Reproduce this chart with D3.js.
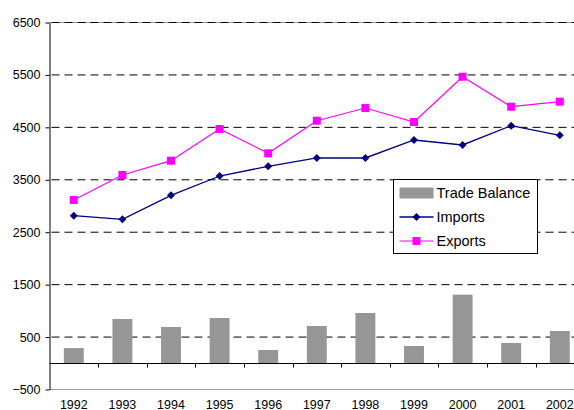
<!DOCTYPE html>
<html>
<head>
<meta charset="utf-8">
<script src="https://cdn.jsdelivr.net/npm/d3@7"></script>
<style>
  body { margin: 0; background: #fff; }
  svg { display: block; font-family: 'Liberation Sans', Arial, sans-serif; }
</style>
</head>
<body>
<svg id="chart" width="574" height="410"></svg>
<script>
// values
const years = ['1992', '1993', '1994', '1995', '1996', '1997', '1998', '1999', '2000', '2001', '2002']
const tradeBalance = [290, 845, 692, 864, 254, 711, 959, 330, 1309, 387, 616]
const imports = [2815, 2746, 3204, 3572, 3757, 3916, 3916, 4259, 4164, 4532, 4349]
const exports = [3115, 3591, 3865, 4469, 4005, 4627, 4869, 4602, 5466, 4894, 4990]
const yTicks = [-500, 500, 1500, 2500, 3500, 4500, 5500, 6500]
const seriesNames = ['Trade Balance', 'Imports', 'Exports']

const svg = d3.select('#chart')
const left = 49.5
const band = 48.6

const x = d3.scaleBand()
  .domain(years)
  .range([left, left + band * years.length])
  .padding(0)
const y = d3.scaleLinear()
  .domain([-500, 6500])
  .range([389.5, 22.5])

const right = x.range()[1]

// plot border top / bottom
svg.append('g').selectAll('line')
  .data([-500, 6500])
  .enter()
  .append('line')
  .attr('x1', left).attr('x2', right)
  .attr('y1', d => y(d)).attr('y2', d => y(d))
  .attr('stroke', '#999')
  .attr('stroke-width', 1)

// dashed gridlines
svg.append('g').selectAll('line')
  .data(yTicks.filter(d => d > -500))
  .enter()
  .append('line')
  .attr('x1', left).attr('x2', right)
  .attr('y1', d => y(d)).attr('y2', d => y(d))
  .attr('stroke', '#000')
  .attr('stroke-dasharray', '8,5')
  .attr('stroke-dashoffset', -2)

// bars
const barW = x.bandwidth() * 0.41
svg.append('g').selectAll('rect')
  .data(years)
  .enter()
  .append('rect')
  .attr('x', (d, i) => x(d) + (x.bandwidth() - barW) / 2)
  .attr('y', (d, i) => y(tradeBalance[i]))
  .attr('width', barW)
  .attr('height', (d, i) => y(0) - y(tradeBalance[i]))
  .attr('fill', '#969696')

// zero (category) axis
const zero = Math.round(y(0)) + 0.5
svg.append('line')
  .attr('x1', left).attr('x2', right)
  .attr('y1', zero).attr('y2', zero)
  .attr('stroke', '#000')
svg.append('g').selectAll('line')
  .data(years.slice(1))
  .enter()
  .append('line')
  .attr('x1', d => Math.round(x(d)) + 0.5)
  .attr('x2', d => Math.round(x(d)) + 0.5)
  .attr('y1', zero).attr('y2', zero + 4)
  .attr('stroke', '#000')

// year labels at the bottom
svg.append('g').selectAll('text')
  .data(years)
  .enter()
  .append('text')
  .attr('x', d => x(d) + x.bandwidth() / 2)
  .attr('y', 408.5)
  .attr('text-anchor', 'middle')
  .style('font-size', '12.5px')
  .attr('fill', '#000')
  .text(d => d)

// value axis
const yAxis = d3.axisLeft(y)
  .tickValues(yTicks)
  .tickFormat(d3.format('d'))
  .tickSize(4)
  .tickSizeOuter(0)
  .tickPadding(5)
const gy = svg.append('g')
  .attr('transform', `translate(${left},0)`)
  .call(yAxis)
gy.selectAll('text')
  .style('font-size', '12.5px')
  .style('font-family', "'Liberation Sans', Arial, sans-serif")
  .attr('fill', '#000')
gy.selectAll('line, path').attr('stroke', '#000')

// lines
const cx = (d, i) => x(years[i]) + x.bandwidth() / 2
const line = d3.line()
  .x(cx)
  .y(d => y(d))

svg.append('path')
  .datum(imports)
  .attr('fill', 'none')
  .attr('stroke', '#000080')
  .attr('stroke-width', 1.3)
  .attr('d', line)
svg.append('path')
  .datum(exports)
  .attr('fill', 'none')
  .attr('stroke', '#ff00ff')
  .attr('stroke-width', 1.2)
  .attr('d', line)

const diamond = d3.symbol().type(d3.symbolDiamond2).size(40)
svg.append('g').selectAll('path')
  .data(imports)
  .enter()
  .append('path')
  .attr('d', diamond)
  .attr('transform', (d, i) => `translate(${cx(d, i)},${y(d)})`)
  .attr('fill', '#000080')

svg.append('g').selectAll('rect')
  .data(exports)
  .enter()
  .append('rect')
  .attr('x', (d, i) => cx(d, i) - 4)
  .attr('y', d => y(d) - 4)
  .attr('width', 8)
  .attr('height', 8)
  .attr('fill', '#ff00ff')

// legend
const lg = svg.append('g').attr('transform', 'translate(393.5,179.5)')
lg.append('rect')
  .attr('width', 144)
  .attr('height', 74)
  .attr('fill', '#fff')
  .attr('stroke', '#000')
const rowY = [13.5, 37.5, 61.5]
const items = lg.selectAll('.item')
  .data(seriesNames)
  .enter()
  .append('g')
  .attr('class', 'item')
  .attr('transform', (d, i) => `translate(0,${rowY[i]})`)
items.append('text')
  .attr('x', 43)
  .attr('dy', '0.36em')
  .style('font-size', '14.5px')
  .attr('fill', '#000')
  .text(d => d)
// swatches
lg.append('rect')
  .attr('x', 6).attr('y', rowY[0] - 5.5)
  .attr('width', 34).attr('height', 11)
  .attr('fill', '#969696')
lg.append('line')
  .attr('x1', 6).attr('x2', 40)
  .attr('y1', rowY[1]).attr('y2', rowY[1])
  .attr('stroke', '#000080').attr('stroke-width', 1.3)
lg.append('path')
  .attr('d', diamond)
  .attr('transform', `translate(23,${rowY[1]})`)
  .attr('fill', '#000080')
lg.append('line')
  .attr('x1', 6).attr('x2', 40)
  .attr('y1', rowY[2]).attr('y2', rowY[2])
  .attr('stroke', '#ff00ff').attr('stroke-width', 1.2)
lg.append('rect')
  .attr('x', 19).attr('y', rowY[2] - 4)
  .attr('width', 8).attr('height', 8)
  .attr('fill', '#ff00ff')
</script>
</body>
</html>
